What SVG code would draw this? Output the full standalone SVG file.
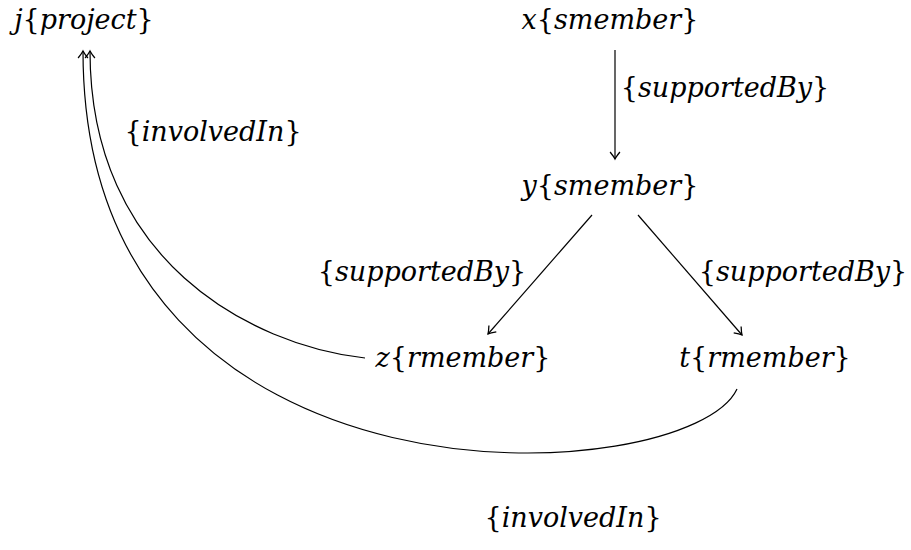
<svg xmlns="http://www.w3.org/2000/svg" width="911" height="550" viewBox="0 0 911 550">
<style>
text{font-family:'DejaVu Serif','Liberation Serif',serif;font-size:27px;fill:#000;text-anchor:middle}
.i{font-style:italic}
.e{fill:none;stroke:#000;stroke-width:1.2}
</style>
<defs>
<marker id="ah" markerUnits="userSpaceOnUse" markerWidth="14" markerHeight="14" refX="0" refY="0" viewBox="-8 -6 10 12" orient="auto" overflow="visible">
<path d="M-6,-4.2 Q-2,-1 0,0 Q-2,1 -6,4.2" fill="none" stroke="#000" stroke-width="1.1"/>
</marker>
</defs>
<rect width="911" height="550" fill="#fff"/>
<g id="connectors">
<line class="e" x1="615" y1="50" x2="615" y2="159" marker-end="url(#ah)"/>
<line class="e" x1="592" y1="215" x2="488" y2="334" marker-end="url(#ah)"/>
<line class="e" x1="638" y1="215" x2="742" y2="335" marker-end="url(#ah)"/>
<path class="e" d="M365,358 C250,345 90,260 90,51" marker-end="url(#ah)"/>
<path class="e" d="M737,389 C690,490 83,530 83,51" marker-end="url(#ah)"/>
</g>
<g id="labels">
<text x="725" y="97">{<tspan class="i">supportedBy</tspan>}</text>
<text x="422" y="281">{<tspan class="i">supportedBy</tspan>}</text>
<text x="803" y="281">{<tspan class="i">supportedBy</tspan>}</text>
<text x="213" y="141">{<tspan class="i">involvedIn</tspan>}</text>
<text x="573" y="527">{<tspan class="i">involvedIn</tspan>}</text>
</g>
<g id="node-j"><text x="84" y="29"><tspan class="i">j</tspan>{<tspan class="i">project</tspan>}</text></g>
<g id="node-x"><text x="610" y="29"><tspan class="i">x</tspan>{<tspan class="i">smember</tspan>}</text></g>
<g id="node-y"><text x="610" y="195"><tspan class="i">y</tspan>{<tspan class="i">smember</tspan>}</text></g>
<g id="node-z"><text x="463" y="367"><tspan class="i">z</tspan>{<tspan class="i">rmember</tspan>}</text></g>
<g id="node-t"><text x="765" y="367"><tspan class="i">t</tspan>{<tspan class="i">rmember</tspan>}</text></g>
</svg>
